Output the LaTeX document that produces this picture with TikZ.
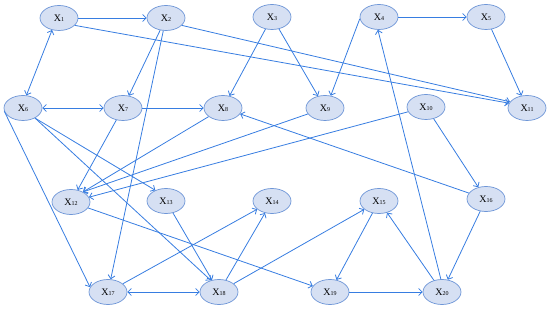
\documentclass[tikz,border=0pt]{standalone}
\usepackage{fontspec}
\setmainfont{Liberation Serif}
\usetikzlibrary{shapes.geometric,arrows.meta}
\definecolor{nfill}{RGB}{214,224,243}
\definecolor{ndraw}{RGB}{110,150,215}
\definecolor{edge}{RGB}{55,125,225}
\newcommand{\xl}[1]{X{\fontsize{6}{6}\selectfont #1}}
\tikzset{
  nd/.style={ellipse,draw=ndraw,fill=nfill,line width=0.7pt,minimum width=38pt,minimum height=25pt,inner sep=0pt,font=\fontsize{10}{10}\selectfont},
  ed/.style={draw=edge,line width=0.8pt,-{Straight Barb[length=3.5pt,width=7pt]}},
  bd/.style={draw=edge,line width=0.8pt,{Straight Barb[length=3.5pt,width=7pt]}-{Straight Barb[length=3.5pt,width=7pt]}}
}
\begin{document}
\begin{tikzpicture}[x=1pt,y=-1pt]
\useasboundingbox (0,0) rectangle (550,310);
\node[nd] (x1) at (59,18) {\xl{1}};
\node[nd] (x2) at (166,18) {\xl{2}};
\node[nd] (x3) at (272,17) {\xl{3}};
\node[nd] (x4) at (379,17) {\xl{4}};
\node[nd] (x5) at (486,17) {\xl{5}};
\node[nd] (x6) at (23,108) {\xl{6}};
\node[nd] (x7) at (123,108) {\xl{7}};
\node[nd] (x8) at (223,108) {\xl{8}};
\node[nd] (x9) at (325,108) {\xl{9}};
\node[nd] (x10) at (426,107) {\xl{10}};
\node[nd] (x11) at (527,108) {\xl{11}};
\node[nd] (x12) at (71,202) {\xl{12}};
\node[nd] (x13) at (166,201) {\xl{13}};
\node[nd] (x14) at (272,201) {\xl{14}};
\node[nd] (x15) at (379,201) {\xl{15}};
\node[nd] (x16) at (486,199) {\xl{16}};
\node[nd] (x17) at (108,292) {\xl{17}};
\node[nd] (x18) at (219,292) {\xl{18}};
\node[nd] (x19) at (330,292) {\xl{19}};
\node[nd] (x20) at (442,292) {\xl{20}};
\draw[ed] (x1) -- (x2);
\draw[bd] (x1.240) -- (x6.75);
\draw[ed] (x1.-25) -- (x11.165);
\draw[ed] (x2.-25) -- (x11.160);
\draw[ed] (x2) -- (x7);
\draw[ed] (x2) -- (x17);
\draw[ed] (x3) -- (x8);
\draw[ed] (x3) -- (x9);
\draw[ed] (x4.185) -- (x9.65);
\draw[ed] (x4) -- (x5);
\draw[ed] (x5) -- (x11);
\draw[ed] (x20.95) -- (x4.265);
\draw[bd] (x6) -- (x7);
\draw[ed] (x7) -- (x8);
\draw[ed] (x7) -- (x12);
\draw[ed] (x6.190) -- (x17.165);
\draw[ed] (x6.-40) -- (x13.135);
\draw[ed] (x6.-40) -- (x18.125);
\draw[ed] (x8) -- (x12.40);
\draw[ed] (x9) -- (x12.40);
\draw[ed] (x10) -- (x12);
\draw[ed] (x16) -- (x8);
\draw[ed] (x10) -- (x16);
\draw[ed] (x12) -- (x19);
\draw[ed] (x13) -- (x18);
\draw[bd] (x17) -- (x18);
\draw[ed] (x17) -- (x14);
\draw[ed] (x18) -- (x14);
\draw[ed] (x18) -- (x15);
\draw[ed] (x15) -- (x19);
\draw[ed] (x19) -- (x20);
\draw[ed] (x20) -- (x15);
\draw[ed] (x16) -- (x20);
\end{tikzpicture}
\end{document}
